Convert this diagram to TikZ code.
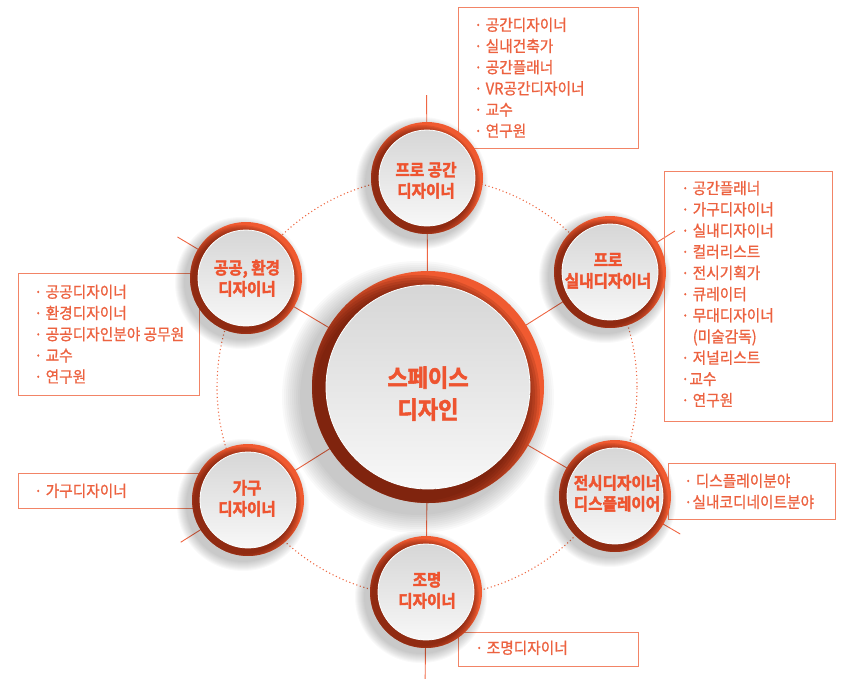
\documentclass[tikz,border=0pt]{standalone}
\usepackage{fontspec}
\usetikzlibrary{calc}
\newfontfamily\kr[FakeStretch=0.93,FakeBold=1]{Noto Sans CJK KR}
\newfontfamily\krb[FakeStretch=0.92,FakeBold=2.2]{Noto Sans CJK KR Bold}
\definecolor{ringc}{HTML}{F05A30}
\definecolor{titlec}{HTML}{EE5430}
\definecolor{shadowc}{HTML}{5E1606}
\definecolor{linec}{HTML}{EF6744}
\definecolor{boxc}{HTML}{F28466}
\definecolor{listc}{HTML}{EC6240}
\definecolor{dotc}{HTML}{EE6A45}
\tikzset{
  boxs/.style={draw=boxc, line width=0.9pt, anchor=north west, inner sep=0pt},
  list/.style={anchor=north west, inner sep=0pt, align=left, text=listc, font=\kr\fontsize{15.8}{21.2}\selectfont},
  sattext/.style={anchor=north, inner sep=0pt, align=center, text=titlec, font=\krb\fontsize{17}{21}\selectfont},
  hubtext/.style={anchor=north, inner sep=0pt, align=center, text=titlec, font=\krb\fontsize{24}{32}\selectfont},
  spoke/.style={draw=linec, line width=0.9pt},
  dotring/.style={draw=dotc, line width=1.1pt, dash pattern=on 1.1pt off 2.6pt},
}
% name (existing coordinate), R, r, shadow offset, shadow opacity
\newcommand\orb[5]{%
  \foreach \k in {1,...,10}
    \fill[black,opacity=0.022] ($(#1)+(-#4,-#4)$) circle ({#2+\k*#4*0.2});
  \fill[ringc] (#1) circle (#2);
  \begin{scope}
    \clip (#1) circle (#2);
    \foreach \k in {0,...,7}
      \fill[shadowc,opacity=#5] ($(#1)+(-#4,-#4)$) circle ({#3+2*#4-\k*#4*0.25});
  \end{scope}
  \fill[top color=black!16, bottom color=white!97!black] (#1) circle (#3);
  \draw[white, line width=0.8pt] (#1) circle (#3);
}
\begin{document}
\begin{tikzpicture}[x=1pt,y=1pt]
\useasboundingbox (0,0) rectangle (844,-678);
% centres
\coordinate (hub) at (428,-387);
\coordinate (sT) at (427,-178);
\coordinate (sUR) at (610,-272);
\coordinate (sLR) at (615,-496);
\coordinate (sUL) at (246,-278);
\coordinate (sLL) at (248,-500);
\coordinate (sB) at (426,-592);
% dotted ring
\draw[dotring] (427,-387) circle (210pt);
% spokes
\foreach \s in {sT,sUR,sLR,sUL,sLL,sB}
  \draw[spoke] (hub) -- ($(hub)!292pt!(\s)$);
% boxes
\node[boxs, minimum width=180pt, minimum height=141pt] (bT) at (458,-7) {};
\node[boxs, minimum width=168pt, minimum height=250pt] (bUR) at (664,-171) {};
\node[boxs, minimum width=181pt, minimum height=122pt] (bUL) at (18,-273) {};
\node[boxs, minimum width=182pt, minimum height=35pt] (bLL) at (18,-473) {};
\node[boxs, minimum width=167pt, minimum height=56pt] (bLR) at (668,-463) {};
\node[boxs, minimum width=180pt, minimum height=34pt] (bB) at (458,-632) {};
% lists
\node[list] (lT) at (474,-14.5) {\rule{0pt}{16pt}· 공간디자이너\\· 실내건축가\\· 공간플래너\\· VR공간디자이너\\· 교수\\· 연구원};
\node[list] (lUR) at (681,-177.8) {\rule{0pt}{16pt}· 공간플래너\\· 가구디자이너\\· 실내디자이너\\· 컬러리스트\\· 전시기획가\\· 큐레이터\\· 무대디자이너\\\phantom{· }(미술감독)\\· 저널리스트\\·교수\\· 연구원};
\node[list] (lUL) at (34,-281.5) {\rule{0pt}{16pt}· 공공디자이너\\· 환경디자이너\\· 공공디자인분야 공무원\\· 교수\\· 연구원};
\node[list] (lLL) at (34,-480.5) {\rule{0pt}{16pt}· 가구디자이너};
\node[list] (lLR) at (684,-470.5) {\rule{0pt}{16pt}· 디스플레이분야\\·실내코디네이트분야};
\node[list] (lB) at (475,-637.5) {\rule{0pt}{16pt}· 조명디자이너};
% orbs
\orb{sT}{56pt}{48pt}{5}{0.12}
\orb{sUR}{56pt}{48pt}{5}{0.12}
\orb{sLR}{56pt}{48pt}{5}{0.12}
\orb{sUL}{56pt}{48pt}{5}{0.12}
\orb{sLL}{56pt}{48pt}{5}{0.12}
\orb{sB}{56pt}{48pt}{5}{0.12}
\orb{hub}{116pt}{102pt}{10}{0.16}
% texts
\node[hubtext] (tHub) at (428,-362.4) {\rule{0pt}{24pt}스페이스\\디자인};
\node[sattext] (tT) at (426,-159) {\rule{0pt}{17pt}프로 공간\\디자이너};
\node[sattext] (tUR) at (608,-249) {\rule{0pt}{17pt}프로\\실내디자이너};
\node[sattext] (tUL) at (247,-257) {\rule{0pt}{17pt}공공, 환경\\디자이너};
\node[sattext] (tLL) at (247,-477) {\rule{0pt}{17pt}가구\\디자이너};
\node[sattext] (tLR) at (617,-472) {\rule{0pt}{17pt}전시디자이너\\디스플레이어};
\node[sattext] (tB) at (427,-569) {\rule{0pt}{17pt}조명\\디자이너};
\end{tikzpicture}
\end{document}
